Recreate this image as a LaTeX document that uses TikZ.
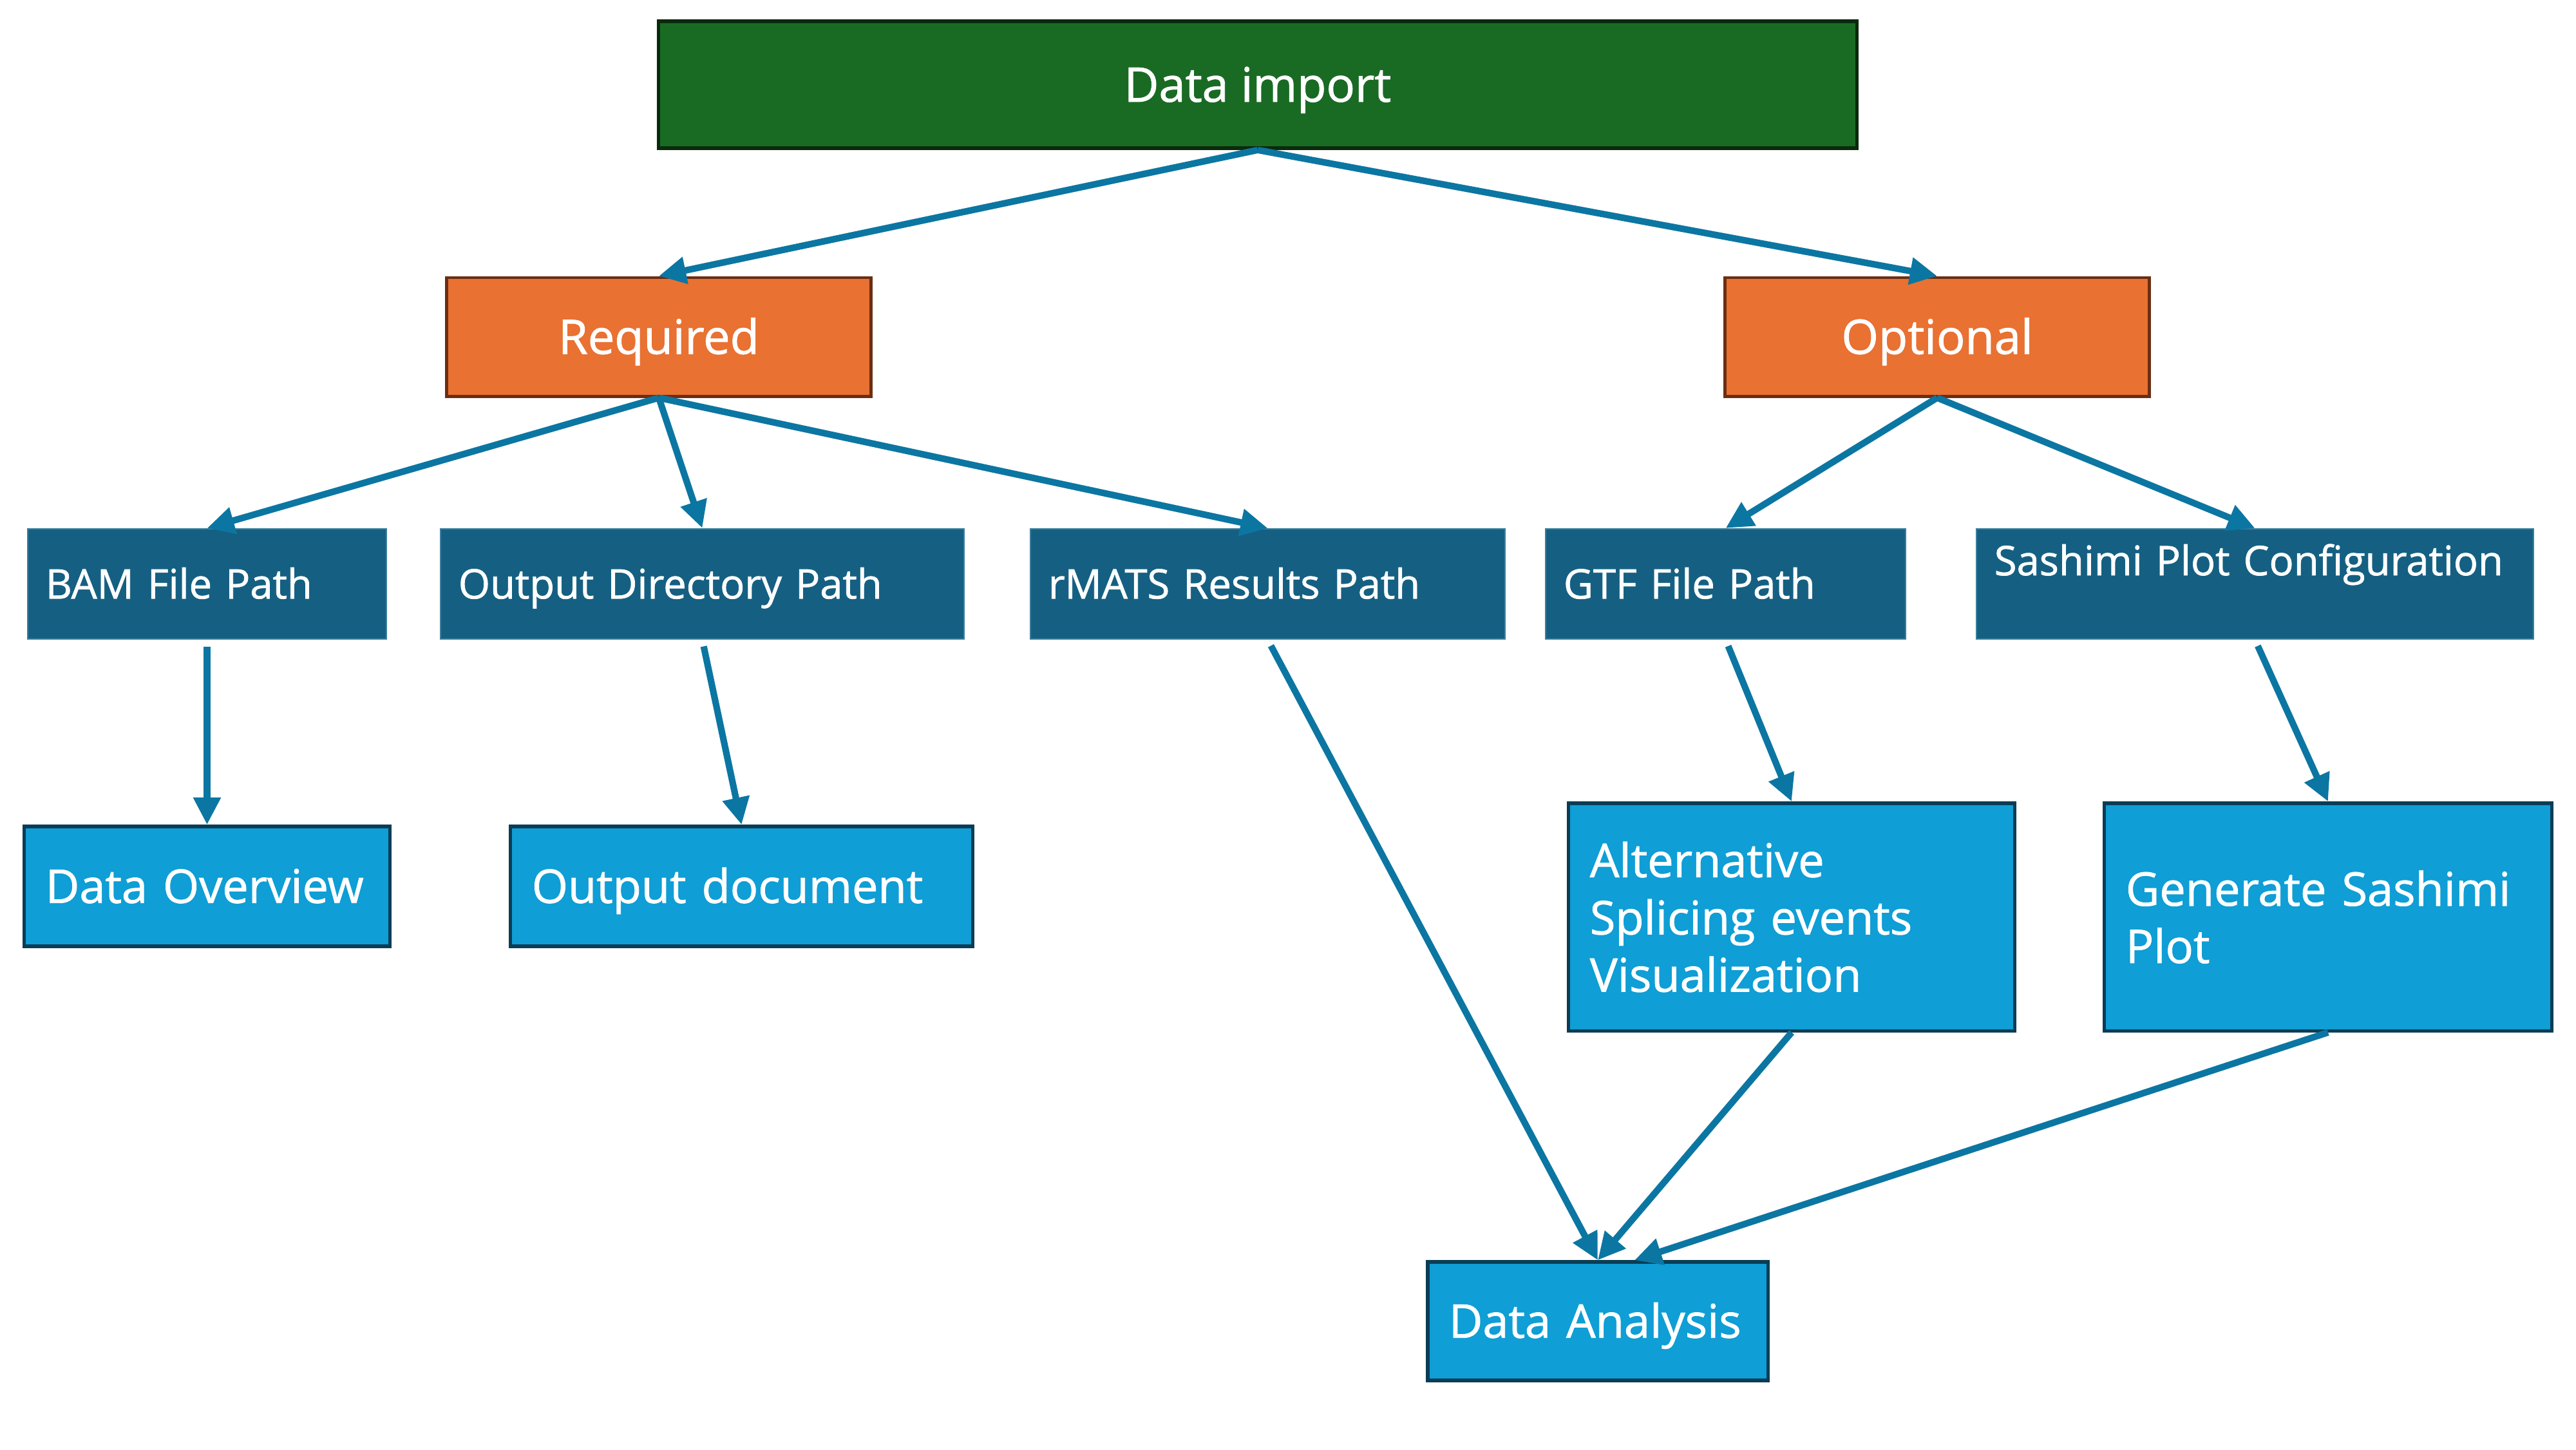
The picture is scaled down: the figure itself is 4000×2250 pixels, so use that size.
\documentclass[tikz,border=0pt]{standalone}
\usepackage{fontspec}
\setmainfont{Open Sans}[FakeBold=1.2]
\usetikzlibrary{arrows.meta,calc}
\definecolor{cgreen}{HTML}{196B24}
\definecolor{cgreenb}{HTML}{0A2A0C}
\definecolor{corange}{HTML}{E97132}
\definecolor{corangeb}{HTML}{6B2E12}
\definecolor{cdark}{HTML}{156082}
\definecolor{cdarkb}{HTML}{3E7F9D}
\definecolor{clight}{HTML}{0F9ED5}
\definecolor{clightb}{HTML}{0A3D55}
\definecolor{carrow}{HTML}{0C76A2}
\tikzset{
  topbox/.style={draw=cgreenb, line width=1.6pt, fill=cgreen, text=white,
    font=\fontsize{21}{26}\selectfont, inner sep=0pt, text height=15pt, text depth=0pt},
  midbox/.style={draw=corangeb, line width=1.4pt, fill=corange, text=white,
    font=\fontsize{21}{26}\selectfont, inner sep=0pt, minimum width=6.58cm, minimum height=1.84cm,
    text height=15pt, text depth=0pt},
  pathbox/.style={draw=cdarkb, line width=0.6pt, fill=cdark, text=white,
    font=\fontsize{18}{22}\selectfont, align=left, inner xsep=0.28cm, inner ysep=0pt,
    minimum height=1.71cm},
  pathone/.style={pathbox, text height=12.9pt, text depth=0pt},
  resbox/.style={draw=clightb, line width=1.5pt, fill=clight, text=white,
    font=\fontsize{20.5}{25.3}\selectfont, align=left, inner xsep=0.33cm, inner ysep=0pt},
  resone/.style={resbox, text height=14.6pt, text depth=0pt},
  conn/.style={draw=carrow, line width=2.9pt, -{Triangle[length=12pt,width=11.5pt]}},
}
\begin{document}
\begin{tikzpicture}[x=0.01cm,y=-0.01cm]
\useasboundingbox[fill=white] (0,0) rectangle (4000,2250);
% top
\node[topbox, minimum width=18.6cm, minimum height=1.97cm] (imp) at (1953,131.5) {Data import};
\node[midbox] (req) at (1023,523) {Required};
\node[midbox] (opt) at (3008,523) {Optional};
% paths
\node[pathone, text width=5.01cm] (bam) at (321.5,906.5) {BAM File Path};
\node[pathone, text width=7.57cm] (odp) at (1090.5,906.5) {Output Directory Path};
\node[pathone, text width=6.81cm] (rmats) at (1968.5,906.5) {rMATS Results Path};
\node[pathone, text width=5.03cm] (gtf) at (2679.5,906.5) {GTF File Path};
\node[pathbox, text width=8.09cm, text height=0.72cm, text depth=0.99cm] (spc) at (3501.5,906.5) {Sashimi Plot Configuration};
% results
\node[resone, text width=5.01cm, minimum height=1.86cm] (dov) at (321.5,1376) {Data Overview};
\node[resone, text width=6.51cm, minimum height=1.86cm] (odoc) at (1151.5,1376) {Output document};
\node[resbox, text width=6.26cm, minimum height=3.53cm] (asv) at (2782,1423.5) {Alternative\\Splicing events\\Visualization};
\node[resbox, text width=6.28cm, minimum height=3.53cm] (gsp) at (3615,1423.5) {Generate Sashimi\\Plot};
\node[resone, text width=4.62cm, minimum height=1.84cm] (da) at (2481,2051) {Data Analysis};
% connectors
\draw[conn] (imp.south) -- (req.north);
\draw[conn] (imp.south) -- (opt.north);
\draw[conn] (req.south) -- (bam.north);
\draw[conn] (req.south) -- (odp.north);
\draw[conn] (req.south) -- (rmats.north);
\draw[conn] (opt.south) -- (gtf.north);
\draw[conn] (opt.south) -- (spc.north);
\draw[conn, shorten <=3pt] (bam.south) -- (dov.north);
\draw[conn, shorten <=3pt] (odp.south) -- (odoc.north);
\draw[conn, shorten <=3pt] (rmats.south) -- (da.north);
\draw[conn, shorten <=3pt] (gtf.south) -- (asv.north);
\draw[conn, shorten <=3pt] (spc.south) -- (gsp.north);
\draw[conn] (asv.south) -- (da.north);
\draw[conn] (gsp.south) -- ([xshift=0.57cm]da.north);
\end{tikzpicture}
\end{document}
